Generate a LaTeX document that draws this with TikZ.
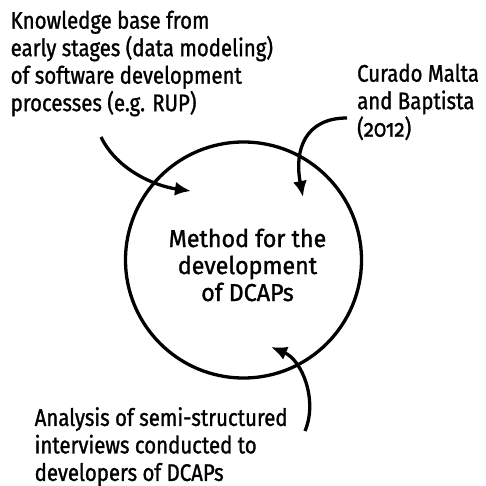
\documentclass[tikz,border=0pt]{standalone}
\usepackage{fontspec}
\setmainfont[Numbers=OldStyle]{Fira Sans}
\newfontfamily\sidefont[Numbers=OldStyle,FakeStretch=0.85,FakeBold=1.2]{Fira Sans}
\newfontfamily\midfont[Numbers=OldStyle,FakeStretch=0.95,FakeBold=1.2]{Fira Sans}
\usetikzlibrary{arrows.meta}
\begin{document}
\begin{tikzpicture}[x=1pt,y=-1pt,
  lbl/.style={inner sep=0pt,font=\sidefont\fontsize{24}{27.5}\selectfont,align=left,anchor=north west},
  mid/.style={inner sep=0pt,font=\midfont\fontsize{24.5}{27}\selectfont,align=center},
  ring/.style={circle,draw,line width=3.3pt,minimum size=236pt,inner sep=0pt},
  arr/.style={line width=3.3pt,-{Latex[length=16pt,width=14pt]}}]
\useasboundingbox (0,0) rectangle (486,486);
\node[ring] (c) at (243.5,260) {};
\node[mid] (m) at (247.5,265) {Method for the\\development\\of DCAPs};
\node[lbl] (kb) at (10.5,10.5) {Knowledge base from\\early stages (data modeling)\\of software development\\processes (e.g. RUP)};
\node[lbl] (cm) at (357,63.5) {Curado Malta\\and Baptista\\(2012)};
\node[lbl] (an) at (34.5,407) {Analysis of semi-structured\\interviews conducted to\\developers of DCAPs};
\coordinate (a1s) at (101,137);
\coordinate (a1e) at (191,191);
\coordinate (a2s) at (347,118);
\coordinate (a2e) at (303,197);
\coordinate (a3s) at (305,431);
\coordinate (a3e) at (271,347);
\draw[arr] (a1s) .. controls (117,170) and (155,186) .. (a1e);
\draw[arr] (a2s) .. controls (305,118) and (294,150) .. (a2e);
\draw[arr] (a3s) .. controls (318,400) and (302,360) .. (a3e);
\end{tikzpicture}
\end{document}
